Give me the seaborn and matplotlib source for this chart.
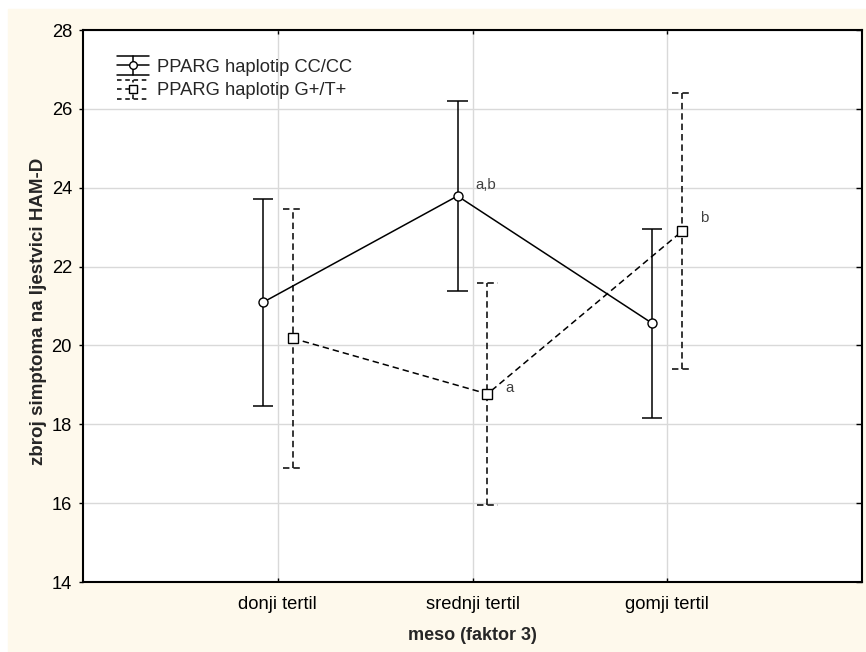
import numpy as np
import pandas as pd
import matplotlib
matplotlib.use("Agg")
import matplotlib.pyplot as plt
import seaborn as sns
from matplotlib.patches import Rectangle
from matplotlib.lines import Line2D
from matplotlib.legend_handler import HandlerBase

# ---- data -------------------------------------------------------------
categories = ["donji tertil", "srednji tertil", "gomji tertil"]
groups = ["PPARG haplotip CC/CC", "PPARG haplotip G+/T+"]

cc_mean = [21.09, 23.79, 20.56]
cc_err = [2.63, 2.41, 2.39]
gt_mean = [20.18, 18.77, 22.90]
gt_err = [3.28, 2.82, 3.50]

cc_letters = ["", "a,b", ""]
gt_letters = ["", "a", "b"]

y_ticks = [14, 16, 18, 20, 22, 24, 26, 28]

# ---- style ------------------------------------------------------------
sns.set_theme(style="white")
plt.rcParams["font.family"] = ["Liberation Sans", "DejaVu Sans"]

cream = "#FEF9EC"
grid_col = "#D9D9D9"
dash_pat = (4.2, 2.6)
dash = (0, dash_pat)
offset = 0.077        # horizontal shift of the two groups around each category
cap_hw = 0.052        # half width of the error bar caps
fs = 13.2

rows = []
for i, cat in enumerate(categories):
    rows.append(dict(meso=cat, haplotip=groups[0], pos=i + 1 - offset,
                     mean=cc_mean[i], err=cc_err[i]))
    rows.append(dict(meso=cat, haplotip=groups[1], pos=i + 1 + offset,
                     mean=gt_mean[i], err=gt_err[i]))
df = pd.DataFrame(rows)

fig = plt.figure(figsize=(8.66, 6.52), dpi=100, facecolor="white")
fig.patches.append(Rectangle((8 / 866, 0), 1, 1 - 9 / 652,
                             transform=fig.transFigure, color=cream,
                             zorder=-10))
ax = fig.add_axes([83 / 866, 70 / 652, 779 / 866, 552 / 652])
ax.set_facecolor("white")

styles = {groups[0]: "solid", groups[1]: dash}

# error bars with caps
for g in groups:
    sub = df[df["haplotip"] == g]
    lo = sub["mean"] - sub["err"]
    hi = sub["mean"] + sub["err"]
    ax.vlines(sub["pos"], lo, hi, colors="black", linestyles=styles[g],
              lw=1.1, zorder=2)
    ax.hlines(np.concatenate([lo, hi]),
              np.concatenate([sub["pos"] - cap_hw] * 2),
              np.concatenate([sub["pos"] + cap_hw] * 2),
              colors="black", linestyles=styles[g], lw=1.1, zorder=2)

# mean lines with markers
sns.lineplot(data=df, x="pos", y="mean", hue="haplotip", style="haplotip",
             palette=["black", "black"], markers=["o", "s"],
             dashes={groups[0]: "", groups[1]: dash_pat},
             estimator=None, sort=False, legend=False, ax=ax,
             lw=1.1, ms=6.5, mfc="white", mec="black", mew=1.0, zorder=3)

# significance letters
for g, letters in zip(groups, [cc_letters, gt_letters]):
    sub = df[df["haplotip"] == g].reset_index(drop=True)
    for i, txt in enumerate(letters):
        if txt:
            dy = {"a,b": 11, "a": 6, "b": 13}[txt]
            ax.annotate(txt, (sub.loc[i, "pos"], sub.loc[i, "mean"]),
                        xytext=(18, dy), textcoords="offset pixels",
                        ha="left", va="center", fontsize=10.8,
                        color="#404040")

# axes, ticks and grid
ax.set_xlim(0, 4)
ax.set_ylim(14, 28)
ax.set_xticks([1, 2, 3])
ax.set_xticklabels(categories)
ax.set_yticks(y_ticks)
ax.grid(True, color=grid_col, lw=1.0, zorder=0)
ax.set_axisbelow(True)
for s in ax.spines.values():
    s.set_color("black")
    s.set_linewidth(1.5)
ax.tick_params(axis="y", left=True, right=True, direction="out", length=3,
               width=1, labelsize=fs, pad=5, colors="black")
ax.tick_params(axis="x", bottom=True, top=True, direction="in", length=3,
               width=1, labelsize=fs, pad=10, colors="black")
for t in ax.yaxis.get_major_ticks():
    t.tick2line.set_marker(matplotlib.markers.TICKLEFT)
    t.tick2line.set_markersize(4)

ax.set_xlabel("meso (faktor 3)", fontsize=13, fontweight="bold")
ax.set_ylabel("zbroj simptoma na ljestvici HAM-D", fontsize=13.5,
              fontweight="bold")
ax.xaxis.set_label_coords(0.5, -0.081)
ax.yaxis.set_label_coords(-0.046, 0.491)


# legend entries drawn as small error bars
class ErrorbarKey(HandlerBase):
    def __init__(self, ls, marker):
        super().__init__()
        self.ls = ls
        self.marker = marker

    def create_artists(self, legend, orig_handle, xdescent, ydescent,
                       width, height, fontsize, trans):
        cx = width / 2 - xdescent
        cy = height / 2 - ydescent
        h = 6.8
        kw = dict(color="black", lw=1.1, linestyle=self.ls, transform=trans)
        arts = [
            Line2D([-xdescent, width - xdescent], [cy + h, cy + h], **kw),
            Line2D([-xdescent, width - xdescent], [cy - h, cy - h], **kw),
            Line2D([-xdescent, width - xdescent], [cy, cy], **kw),
            Line2D([cx, cx], [cy - h, cy + h], **kw),
            Line2D([cx], [cy], marker=self.marker, ms=5.5, mfc="white",
                   mec="black", mew=1.0, linestyle="none", transform=trans),
        ]
        return arts


h1 = Line2D([], [], color="black")
h2 = Line2D([], [], color="black")
ax.legend([h1, h2], groups,
          handler_map={h1: ErrorbarKey("solid", "o"),
                       h2: ErrorbarKey((0, (3.0, 2.4)), "s")},
          loc="upper left", bbox_to_anchor=(0.0436, 0.948), frameon=False,
          borderpad=0, borderaxespad=0, fontsize=fs, handlelength=1.75,
          handletextpad=0.44, labelspacing=0.37)

fig.savefig("out.png", dpi=100, facecolor=fig.get_facecolor())
